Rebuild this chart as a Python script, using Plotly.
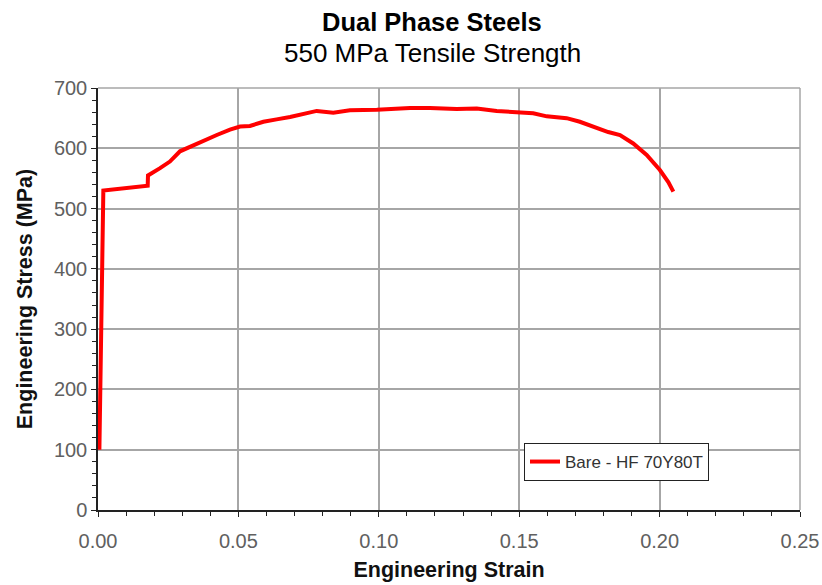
import plotly.graph_objects as go

strain = [0.0005, 0.0019, 0.0177, 0.0178, 0.0221, 0.0256, 0.0292, 0.0339, 0.0387, 0.0423,
          0.0470, 0.0506, 0.0541, 0.0589, 0.0636, 0.0684, 0.0779, 0.0838, 0.0897, 0.0993,
          0.1111, 0.1182, 0.1277, 0.1349, 0.1420, 0.1503, 0.1550, 0.1598, 0.1645, 0.1669,
          0.1716, 0.1764, 0.1817, 0.1859, 0.1906, 0.1954, 0.2001, 0.2031, 0.2049]
stress = [100, 530, 538, 555, 567, 578, 595, 605, 616, 622,
          631, 636, 637, 644, 648, 652, 662, 659, 663, 664,
          667, 667, 665, 666, 662, 660, 658, 653, 650, 650,
          644, 636, 627, 622, 608, 589, 564, 544, 528]
series_name = "Bare - HF 70Y80T"
title_line1 = "Dual Phase Steels"
title_line2 = "550 MPa Tensile Strength"
x_ticks = [0.0, 0.05, 0.10, 0.15, 0.20, 0.25]
y_ticks = [0, 100, 200, 300, 400, 500, 600, 700]

font_family = "Liberation Sans, Arial, sans-serif"
grid_col = "#a6a6a6"
W, H = 822, 585
ML, MR, MT, MB = 98, 22, 88, 75
PW, PH = W - ML - MR, H - MT - MB

fig = go.Figure()
fig.add_trace(go.Scatter(x=strain, y=stress, mode="lines", name=series_name,
                         line=dict(color="#ff0000", width=4)))

fig.update_layout(
    width=W, height=H,
    margin=dict(l=ML, r=MR, t=MT, b=MB, autoexpand=False),
    paper_bgcolor="white", plot_bgcolor="white",
    font=dict(family=font_family, color="#111"),
    showlegend=True,
    legend=dict(x=(524 - ML) / PW, y=(510 - 443) / PH, xanchor="left", yanchor="top",
                bordercolor="#222", borderwidth=1, bgcolor="white",
                font=dict(size=17, color="#333"), itemwidth=30),
    xaxis=dict(range=[0, 0.25], tickvals=x_ticks, tickformat=".2f", automargin=False,
               showgrid=True, gridcolor=grid_col, gridwidth=1.5,
               showline=True, linecolor="#222", linewidth=1.5,
               ticks="outside", ticklen=5, tickcolor="#222", ticklabelstandoff=7,
               tickfont=dict(size=20, color="#606060"), zeroline=False,
               minor=dict(dtick=0.01, ticks="outside", ticklen=4, tickcolor="#222", showgrid=False),
               title=dict(text="<b>Engineering Strain</b>", font=dict(size=21.5, color="#111"), standoff=11)),
    yaxis=dict(range=[0, 700], tickvals=y_ticks, automargin=False,
               showgrid=True, gridcolor=grid_col, gridwidth=1.5,
               showline=True, linecolor="#222", linewidth=1.5,
               ticks="outside", ticklen=5, tickcolor="#222",
               tickfont=dict(size=20, color="#606060"), zeroline=False,
               minor=dict(dtick=20, ticks="outside", ticklen=4, tickcolor="#222", showgrid=False),
               title=dict(text="<b>Engineering Stress (MPa)</b>", font=dict(size=21.5, color="#111"), standoff=15)),
    shapes=[
        dict(type="line", xref="paper", yref="paper", x0=1, x1=1, y0=0, y1=1,
             line=dict(color=grid_col, width=1.5), layer="below"),
        dict(type="line", xref="paper", yref="paper", x0=0, x1=1, y0=1, y1=1,
             line=dict(color=grid_col, width=1.5), layer="below"),
    ],
    annotations=[
        dict(text="<b>" + title_line1 + "</b>", xref="paper", yref="paper",
             x=(432 - ML) / PW, y=1 + (MT - 22) / PH, xanchor="center", yanchor="middle",
             showarrow=False, font=dict(size=25.5, color="#000")),
        dict(text=title_line2, xref="paper", yref="paper",
             x=(432 - ML) / PW, y=1 + (MT - 53) / PH, xanchor="center", yanchor="middle",
             showarrow=False, font=dict(size=26, color="#000")),
    ],
)

fig.write_html("out.html")
